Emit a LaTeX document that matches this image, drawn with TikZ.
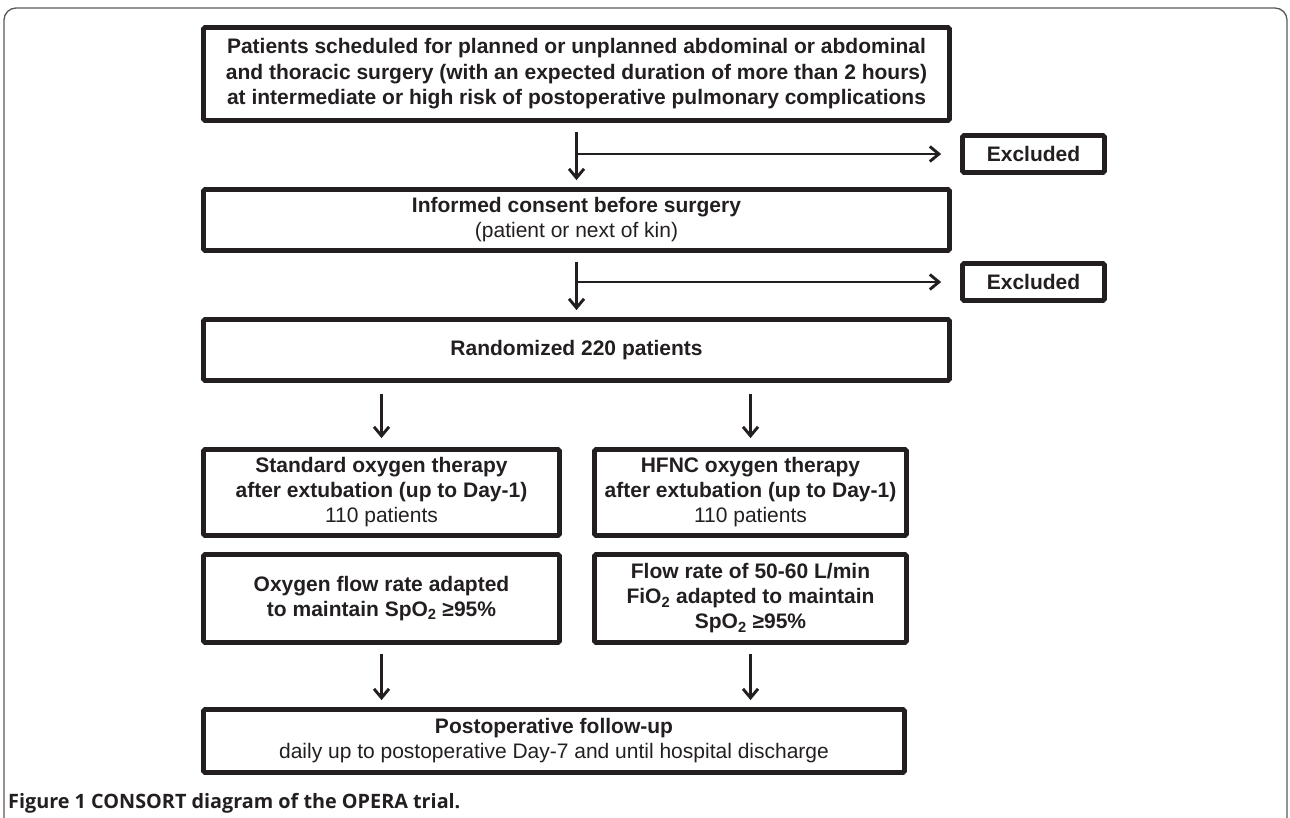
\documentclass[tikz,border=0pt]{standalone}
\usepackage{fontspec}
\setmainfont{Liberation Sans}
\newfontfamily\capfont{Open Sans}
\usetikzlibrary{arrows.meta,calc}
\definecolor{ink}{HTML}{231F20}
\tikzset{
  box/.style={draw=ink,line width=4.8pt,rounded corners=1.5pt,align=center,inner sep=0pt,text=ink,font=\fontsize{21}{25}\selectfont},
  exbox/.style={box,minimum width=142pt,minimum height=37pt,font=\fontsize{21}{25}\selectfont\bfseries},
  arr/.style={draw=ink,line width=2.9pt,-{Straight Barb[length=9pt,width=15pt]},shorten <=9pt,shorten >=7pt},
}
\begin{document}
\begin{tikzpicture}[x=1pt,y=-1pt]
\useasboundingbox (0,0) rectangle (1290,818);
% outer frame
\draw[ink!75,line width=1.3pt,rounded corners=12pt] (4,840) -- (4,8) -- (1287,8) -- (1287,840);
% main column
\node[box,minimum width=746pt,minimum height=93pt,font=\fontsize{21}{25.5}\selectfont\bfseries] (screen) at (576.5,74)
  {Patients scheduled for planned or unplanned abdominal or abdominal\\and thoracic surgery (with an expected duration of more than 2 hours)\\at intermediate or high risk of postoperative pulmonary complications};
\node[box,minimum width=746pt,minimum height=61pt] (consent) at (576.5,220) {\textbf{Informed consent before surgery}\\(patient or next of kin)};
\node[box,minimum width=746pt,minimum height=61pt] (rand) at (576.5,350) {\textbf{Randomized 220 patients}};
\node[exbox] (excl1) at (1033.5,154) {Excluded};
\node[exbox] (excl2) at (1033.5,282) {Excluded};
% two arms
\node[box,minimum width=356pt,minimum height=86pt] (std) at (381.5,492.5) {\textbf{Standard oxygen therapy}\\\textbf{after extubation (up to Day-1)}\\110 patients};
\node[box,minimum width=312pt,minimum height=86pt] (hfnc) at (750.5,492.5) {\textbf{HFNC oxygen therapy}\\\textbf{after extubation (up to Day-1)}\\110 patients};
\node[box,minimum width=356pt,minimum height=88pt] (oxy) at (381.5,598.5) {\textbf{Oxygen flow rate adapted}\\\textbf{to maintain SpO\textsubscript{2} ≥95\%}};
\node[box,minimum width=312pt,minimum height=88pt] (flow) at (750.5,598.5) {\textbf{Flow rate of 50-60 L/min}\\\textbf{FiO\textsubscript{2} adapted to maintain}\\\textbf{SpO\textsubscript{2} ≥95\%}};
\node[box,minimum width=701pt,minimum height=63pt] (post) at (554,741) {\textbf{Postoperative follow-up}\\daily up to postoperative Day-7 and until hospital discharge};
% connectors
\coordinate (j1) at (screen.south |- excl1.west);
\coordinate (j2) at (consent.south |- excl2.west);
\draw[arr] (screen.south) -- (consent.north);
\draw[arr] (consent.south) -- (rand.north);
\draw[arr,shorten <=0pt,shorten >=19pt] (j1) -- (excl1.west);
\draw[arr,shorten <=0pt,shorten >=19pt] (j2) -- (excl2.west);
\foreach \arm/\next in {std/oxy,hfnc/flow} {
  \draw[arr,shorten <=11pt,shorten >=9pt] (rand.south -| \arm.north) -- (\arm.north);
  \draw[arr] (\next.south) -- (\next.south |- post.north);
}
% caption
\node[anchor=base west,inner sep=0pt,text=ink,font=\capfont\bfseries\fontsize{19.8}{22}\selectfont] (cap) at (8,808) {Figure 1 CONSORT diagram of the OPERA trial.};
\end{tikzpicture}
\end{document}
